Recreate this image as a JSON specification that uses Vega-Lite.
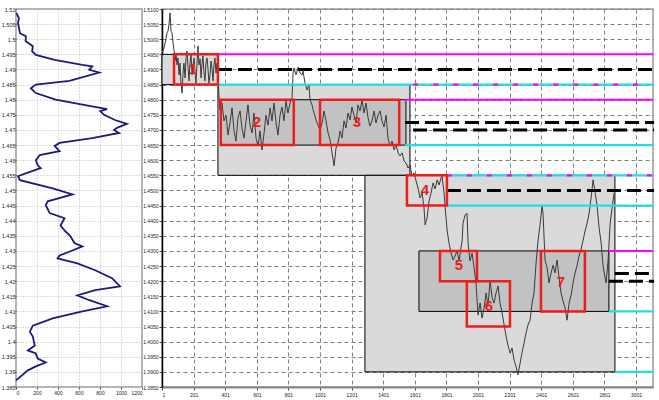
{
"$schema": "https://vega.github.io/schema/vega-lite/v6.json",
"background": "white",
"padding": {"left": 0, "top": 6, "right": 4, "bottom": 2},
"bounds": "flush",
"spacing": 20,
"config": {
  "font": "Liberation Sans",
  "view": {"stroke": "#9a9a9a", "strokeWidth": 1.5},
  "axis": {"labelColor": "#222", "tickColor": "#444", "domainColor": "#333", "title": null, "labelFont": "Liberation Sans"}
},
"datasets": {
  "profile": [
    {"i":0,"price":1.5087,"vol":3},{"i":1,"price":1.507,"vol":28},{"i":2,"price":1.5054,"vol":19},{"i":3,"price":1.502,"vol":38},{"i":4,"price":1.501,"vol":94},{"i":5,"price":1.4994,"vol":91},{"i":6,"price":1.4977,"vol":160},{"i":7,"price":1.496,"vol":154},{"i":8,"price":1.4948,"vol":189},{"i":9,"price":1.4932,"vol":368},{"i":10,"price":1.4915,"vol":632},{"i":11,"price":1.491,"vol":726},{"i":12,"price":1.4899,"vol":698},{"i":13,"price":1.489,"vol":792},{"i":14,"price":1.4862,"vol":509},{"i":15,"price":1.485,"vol":189},{"i":16,"price":1.4838,"vol":141},{"i":17,"price":1.4822,"vol":189},{"i":18,"price":1.48,"vol":377},{"i":19,"price":1.4782,"vol":660},{"i":20,"price":1.4769,"vol":868},{"i":21,"price":1.4762,"vol":802},{"i":22,"price":1.475,"vol":839},{"i":23,"price":1.4733,"vol":943},{"i":24,"price":1.472,"vol":1056},{"i":25,"price":1.4707,"vol":962},{"i":26,"price":1.47,"vol":934},{"i":27,"price":1.469,"vol":981},{"i":28,"price":1.4673,"vol":726},{"i":29,"price":1.4657,"vol":415},{"i":30,"price":1.4647,"vol":368},{"i":31,"price":1.463,"vol":415},{"i":32,"price":1.4617,"vol":226},{"i":33,"price":1.46,"vol":189},{"i":34,"price":1.4583,"vol":207},{"i":35,"price":1.4574,"vol":236},{"i":36,"price":1.4567,"vol":179},{"i":37,"price":1.4547,"vol":19},{"i":38,"price":1.4534,"vol":38},{"i":39,"price":1.4507,"vol":349},{"i":40,"price":1.4487,"vol":538},{"i":41,"price":1.4464,"vol":302},{"i":42,"price":1.4451,"vol":283},{"i":43,"price":1.4425,"vol":321},{"i":44,"price":1.4408,"vol":462},{"i":45,"price":1.4384,"vol":424},{"i":46,"price":1.4368,"vol":462},{"i":47,"price":1.4348,"vol":519},{"i":48,"price":1.4326,"vol":556},{"i":49,"price":1.4315,"vol":632},{"i":50,"price":1.4299,"vol":519},{"i":51,"price":1.4285,"vol":415},{"i":52,"price":1.4275,"vol":396},{"i":53,"price":1.4259,"vol":585},{"i":54,"price":1.4236,"vol":754},{"i":55,"price":1.421,"vol":915},{"i":56,"price":1.4183,"vol":990},{"i":57,"price":1.417,"vol":754},{"i":58,"price":1.4153,"vol":585},{"i":59,"price":1.4137,"vol":698},{"i":60,"price":1.4117,"vol":868},{"i":61,"price":1.41,"vol":632},{"i":62,"price":1.4077,"vol":349},{"i":63,"price":1.4053,"vol":160},{"i":64,"price":1.4033,"vol":132},{"i":65,"price":1.4017,"vol":160},{"i":66,"price":1.3987,"vol":179},{"i":67,"price":1.3971,"vol":113},{"i":68,"price":1.3961,"vol":189},{"i":69,"price":1.3944,"vol":207},{"i":70,"price":1.3931,"vol":283},{"i":71,"price":1.3918,"vol":189},{"i":72,"price":1.3905,"vol":113},{"i":73,"price":1.3872,"vol":0}
  ],
  "prices": [
    {"t":1,"p":1.4954},{"t":14,"p":1.4971},{"t":26,"p":1.5001},{"t":33,"p":1.5021},{"t":39,"p":1.5027},{"t":45,"p":1.5047},{"t":52,"p":1.5087},{"t":58,"p":1.5027},{"t":64,"p":1.5021},{"t":71,"p":1.4988},{"t":77,"p":1.4964},{"t":83,"p":1.4928},{"t":90,"p":1.4948},{"t":96,"p":1.4915},{"t":102,"p":1.4938},{"t":109,"p":1.4882},{"t":115,"p":1.4921},{"t":121,"p":1.4855},{"t":128,"p":1.4822},{"t":134,"p":1.4888},{"t":140,"p":1.4921},{"t":147,"p":1.4872},{"t":153,"p":1.4938},{"t":159,"p":1.4961},{"t":166,"p":1.4905},{"t":172,"p":1.4862},{"t":178,"p":1.4921},{"t":185,"p":1.4948},{"t":191,"p":1.4882},{"t":197,"p":1.4908},{"t":204,"p":1.4938},{"t":210,"p":1.4888},{"t":216,"p":1.4855},{"t":223,"p":1.4928},{"t":229,"p":1.4978},{"t":235,"p":1.4915},{"t":242,"p":1.4935},{"t":248,"p":1.4872},{"t":254,"p":1.4915},{"t":260,"p":1.4945},{"t":267,"p":1.4888},{"t":273,"p":1.4862},{"t":279,"p":1.4921},{"t":286,"p":1.4938},{"t":292,"p":1.4902},{"t":298,"p":1.4855},{"t":305,"p":1.4882},{"t":311,"p":1.4928},{"t":317,"p":1.4905},{"t":324,"p":1.4862},{"t":330,"p":1.4915},{"t":336,"p":1.4938},{"t":343,"p":1.4888},{"t":349,"p":1.4921},{"t":355,"p":1.4872},{"t":362,"p":1.4806},{"t":368,"p":1.4766},{"t":381,"p":1.4789},{"t":393,"p":1.473},{"t":406,"p":1.4749},{"t":419,"p":1.4683},{"t":431,"p":1.4723},{"t":444,"p":1.4773},{"t":457,"p":1.4697},{"t":469,"p":1.4663},{"t":482,"p":1.474},{"t":495,"p":1.4763},{"t":507,"p":1.4706},{"t":520,"p":1.4673},{"t":533,"p":1.473},{"t":545,"p":1.4783},{"t":558,"p":1.4716},{"t":571,"p":1.469},{"t":583,"p":1.4756},{"t":596,"p":1.4673},{"t":609,"p":1.4647},{"t":621,"p":1.4697},{"t":634,"p":1.4634},{"t":647,"p":1.469},{"t":659,"p":1.4749},{"t":672,"p":1.4716},{"t":685,"p":1.4773},{"t":697,"p":1.473},{"t":710,"p":1.4789},{"t":723,"p":1.4723},{"t":735,"p":1.4683},{"t":748,"p":1.4749},{"t":760,"p":1.4776},{"t":773,"p":1.473},{"t":786,"p":1.4796},{"t":798,"p":1.4756},{"t":811,"p":1.4789},{"t":824,"p":1.4806},{"t":830,"p":1.4888},{"t":836,"p":1.4905},{"t":849,"p":1.4882},{"t":862,"p":1.4908},{"t":874,"p":1.4888},{"t":887,"p":1.4882},{"t":893,"p":1.4895},{"t":906,"p":1.4855},{"t":919,"p":1.4832},{"t":931,"p":1.4849},{"t":938,"p":1.4799},{"t":950,"p":1.4783},{"t":963,"p":1.4756},{"t":976,"p":1.4733},{"t":988,"p":1.4716},{"t":1001,"p":1.47},{"t":1014,"p":1.4723},{"t":1026,"p":1.4763},{"t":1039,"p":1.473},{"t":1052,"p":1.469},{"t":1064,"p":1.4667},{"t":1077,"p":1.4624},{"t":1090,"p":1.4581},{"t":1102,"p":1.464},{"t":1115,"p":1.4657},{"t":1128,"p":1.4697},{"t":1140,"p":1.4673},{"t":1153,"p":1.473},{"t":1165,"p":1.4706},{"t":1178,"p":1.4756},{"t":1191,"p":1.4733},{"t":1203,"p":1.4776},{"t":1216,"p":1.4749},{"t":1229,"p":1.4723},{"t":1241,"p":1.4783},{"t":1254,"p":1.4763},{"t":1267,"p":1.4799},{"t":1279,"p":1.4756},{"t":1292,"p":1.4789},{"t":1305,"p":1.474},{"t":1317,"p":1.4713},{"t":1330,"p":1.473},{"t":1343,"p":1.4763},{"t":1355,"p":1.4723},{"t":1368,"p":1.4749},{"t":1381,"p":1.4763},{"t":1393,"p":1.473},{"t":1406,"p":1.471},{"t":1419,"p":1.4749},{"t":1431,"p":1.4673},{"t":1444,"p":1.4647},{"t":1457,"p":1.4663},{"t":1469,"p":1.4634},{"t":1482,"p":1.465},{"t":1495,"p":1.4624},{"t":1507,"p":1.4614},{"t":1520,"p":1.4624},{"t":1533,"p":1.4597},{"t":1545,"p":1.4591},{"t":1558,"p":1.4574},{"t":1571,"p":1.4584},{"t":1583,"p":1.4548},{"t":1596,"p":1.4558},{"t":1609,"p":1.4531},{"t":1621,"p":1.4508},{"t":1634,"p":1.4475},{"t":1647,"p":1.4492},{"t":1659,"p":1.4442},{"t":1666,"p":1.4386},{"t":1678,"p":1.4409},{"t":1691,"p":1.4465},{"t":1704,"p":1.4492},{"t":1716,"p":1.4525},{"t":1729,"p":1.4505},{"t":1742,"p":1.4535},{"t":1754,"p":1.4518},{"t":1767,"p":1.4541},{"t":1773,"p":1.4548},{"t":1786,"p":1.4492},{"t":1792,"p":1.4449},{"t":1805,"p":1.4369},{"t":1817,"p":1.4326},{"t":1830,"p":1.4293},{"t":1843,"p":1.427},{"t":1855,"p":1.4283},{"t":1868,"p":1.43},{"t":1881,"p":1.4267},{"t":1893,"p":1.431},{"t":1900,"p":1.4333},{"t":1906,"p":1.4392},{"t":1919,"p":1.4419},{"t":1931,"p":1.4425},{"t":1938,"p":1.4326},{"t":1950,"p":1.4267},{"t":1963,"p":1.4293},{"t":1976,"p":1.4243},{"t":1988,"p":1.4194},{"t":2001,"p":1.4088},{"t":2014,"p":1.4128},{"t":2026,"p":1.4078},{"t":2039,"p":1.4111},{"t":2052,"p":1.4161},{"t":2064,"p":1.4118},{"t":2077,"p":1.4204},{"t":2090,"p":1.4144},{"t":2102,"p":1.4128},{"t":2115,"p":1.4161},{"t":2128,"p":1.4184},{"t":2140,"p":1.4128},{"t":2153,"p":1.4095},{"t":2166,"p":1.4055},{"t":2178,"p":1.4019},{"t":2191,"p":1.3986},{"t":2204,"p":1.3962},{"t":2216,"p":1.3979},{"t":2229,"p":1.3939},{"t":2242,"p":1.3916},{"t":2254,"p":1.389},{"t":2267,"p":1.3929},{"t":2279,"p":1.3962},{"t":2292,"p":1.3995},{"t":2305,"p":1.4029},{"t":2317,"p":1.4055},{"t":2330,"p":1.4071},{"t":2343,"p":1.4128},{"t":2355,"p":1.4161},{"t":2368,"p":1.426},{"t":2381,"p":1.4336},{"t":2393,"p":1.4386},{"t":2406,"p":1.4449},{"t":2412,"p":1.4425},{"t":2425,"p":1.427},{"t":2438,"p":1.4243},{"t":2450,"p":1.4194},{"t":2463,"p":1.4227},{"t":2476,"p":1.4253},{"t":2488,"p":1.4227},{"t":2501,"p":1.427},{"t":2514,"p":1.421},{"t":2526,"p":1.4161},{"t":2539,"p":1.4134},{"t":2552,"p":1.4111},{"t":2564,"p":1.4071},{"t":2577,"p":1.4128},{"t":2590,"p":1.4154},{"t":2602,"p":1.4194},{"t":2615,"p":1.4227},{"t":2628,"p":1.4253},{"t":2640,"p":1.4283},{"t":2653,"p":1.4306},{"t":2666,"p":1.4336},{"t":2678,"p":1.4366},{"t":2691,"p":1.4392},{"t":2704,"p":1.4425},{"t":2716,"p":1.4475},{"t":2729,"p":1.4535},{"t":2742,"p":1.4492},{"t":2754,"p":1.4449},{"t":2767,"p":1.4376},{"t":2780,"p":1.4326},{"t":2792,"p":1.425},{"t":2805,"p":1.421},{"t":2811,"p":1.4194},{"t":2824,"p":1.427},{"t":2837,"p":1.4392},{"t":2849,"p":1.4442},{"t":2862,"p":1.4492}
  ],
  "outer": [
    {"t":1,"t2":355,"p":1.485,"p2":1.495},
    {"t":355,"t2":1570,"p":1.455,"p2":1.485},
    {"t":1285,"t2":2867,"p":1.39,"p2":1.455}
  ],
  "inner": [
    {"t":373,"t2":1545,"p":1.465,"p2":1.48},
    {"t":1627,"t2":2829,"p":1.41,"p2":1.43}
  ],
  "redbox": [
    {"t":77,"t2":355,"p":1.485,"p2":1.495},
    {"t":373,"t2":835,"p":1.465,"p2":1.48},
    {"t":1001,"t2":1502,"p":1.465,"p2":1.48},
    {"t":1551,"t2":1804,"p":1.445,"p2":1.455},
    {"t":1760,"t2":1994,"p":1.42,"p2":1.43},
    {"t":1930,"t2":2203,"p":1.405,"p2":1.42},
    {"t":2399,"t2":2677,"p":1.41,"p2":1.43}
  ],
  "cyan": [
    {"t":355,"t2":3108,"p":1.485},
    {"t":1539,"t2":3108,"p":1.465},
    {"t":1804,"t2":3108,"p":1.455},
    {"t":1804,"t2":3108,"p":1.445},
    {"t":2829,"t2":3108,"p":1.41},
    {"t":2867,"t2":3108,"p":1.39}
  ],
  "magenta": [
    {"t":355,"t2":3108,"p":1.495},
    {"t":1539,"t2":3108,"p":1.48},
    {"t":2829,"t2":3108,"p":1.43}
  ],
  "magdash": [
    {"t":1590,"t2":3108,"p":1.485},
    {"t":1804,"t2":3108,"p":1.455}
  ],
  "blackdash": [
    {"t":355,"t2":3115,"p":1.49},
    {"t":1539,"t2":3115,"p":1.4725},
    {"t":1590,"t2":3115,"p":1.47},
    {"t":1804,"t2":3115,"p":1.45},
    {"t":2867,"t2":3090,"p":1.4225},
    {"t":2829,"t2":3115,"p":1.42}
  ],
  "labels": [
    {"t":196,"p":1.49,"label":"1"},
    {"t":601,"p":1.4726,"label":"2"},
    {"t":1234,"p":1.4726,"label":"3"},
    {"t":1665,"p":1.45,"label":"4"},
    {"t":1880,"p":1.4253,"label":"5"},
    {"t":2070,"p":1.4118,"label":"6"},
    {"t":2525,"p":1.4197,"label":"7"}
  ]
},
"hconcat": [
  {
    "width": 126, "height": 378,
    "data": {"name": "profile"},
    "mark": {"type": "line", "color": "#1a1a80", "strokeWidth": 1.8},
    "encoding": {
      "x": {"field": "vol", "type": "quantitative", "scale": {"domain": [0, 1200], "nice": false},
            "axis": {"values": [0,200,400,600,800,1000,1200], "format": "d", "labelFontSize": 5, "tickSize": 2, "labelPadding": 1, "grid": true, "gridDash": [1,2], "gridColor": "#b8b8b8", "domain": false}},
      "y": {"field": "price", "type": "quantitative", "scale": {"domain": [1.385, 1.51], "nice": false, "zero": false},
            "axis": {"values": [1.385,1.39,1.395,1.4,1.405,1.41,1.415,1.42,1.425,1.43,1.435,1.44,1.445,1.45,1.455,1.46,1.465,1.47,1.475,1.48,1.485,1.49,1.495,1.5,1.505,1.51], "format": ".4~f", "labelFontSize": 5.5, "tickSize": 1, "labelPadding": 0, "grid": true, "gridDash": [1,2], "gridColor": "#b8b8b8", "domain": false}},
      "order": {"field": "i", "type": "quantitative"}
    }
  },
  {
    "width": 491, "height": 378,
    "encoding": {
      "x": {"field": "t", "type": "quantitative", "scale": {"domain": [1, 3108], "nice": false, "zero": false},
            "axis": {"values": [1,201,401,601,801,1001,1201,1401,1601,1801,2001,2201,2401,2601,2801,3001], "format": "d", "labelFontSize": 5, "tickSize": 3, "labelPadding": 2, "grid": true, "gridDash": [4,3], "gridColor": "#808080", "domainColor": "#888", "domainWidth": 2}},
      "y": {"field": "p", "type": "quantitative", "scale": {"domain": [1.385, 1.51], "nice": false, "zero": false},
            "axis": {"values": [1.385,1.39,1.395,1.4,1.405,1.41,1.415,1.42,1.425,1.43,1.435,1.44,1.445,1.45,1.455,1.46,1.465,1.47,1.475,1.48,1.485,1.49,1.495,1.5,1.505,1.51], "format": ".4f", "labelFontSize": 5, "tickSize": 3, "labelPadding": 1, "grid": true, "gridDash": [4,3], "gridColor": "#808080", "domainColor": "#000", "domainWidth": 1.5}}
    },
    "layer": [
      {"data": {"name": "outer"}, "mark": {"type": "rect", "fill": "#dadada", "stroke": "#000", "strokeWidth": 1},
       "encoding": {"x2": {"field": "t2"}, "y2": {"field": "p2"}}},
      {"data": {"name": "inner"}, "mark": {"type": "rect", "fill": "#c2c2c2", "stroke": "#000", "strokeWidth": 1},
       "encoding": {"x2": {"field": "t2"}, "y2": {"field": "p2"}}},
      {"data": {"name": "prices"}, "mark": {"type": "line", "color": "#3a3a3a", "strokeWidth": 1}},
      {"data": {"name": "cyan"}, "mark": {"type": "rule", "color": "#22dde6", "strokeWidth": 2.2},
       "encoding": {"x2": {"field": "t2"}}},
      {"data": {"name": "magenta"}, "mark": {"type": "rule", "color": "#ff00ff", "strokeWidth": 2},
       "encoding": {"x2": {"field": "t2"}}},
      {"data": {"name": "magdash"}, "mark": {"type": "rule", "color": "#ff00ff", "strokeWidth": 2.2, "strokeDash": [5, 15]},
       "encoding": {"x2": {"field": "t2"}}},
      {"data": {"name": "blackdash"}, "mark": {"type": "rule", "color": "#000", "strokeWidth": 3, "strokeDash": [14, 6], "clip": false},
       "encoding": {"x2": {"field": "t2"}}},
      {"data": {"name": "redbox"}, "mark": {"type": "rect", "fill": null, "fillOpacity": 0, "stroke": "#ee1c1c", "strokeWidth": 2.5},
       "encoding": {"x2": {"field": "t2"}, "y2": {"field": "p2"}}},
      {"data": {"name": "labels"}, "mark": {"type": "text", "color": "#ee1c1c", "fontSize": 15, "fontWeight": "bold", "font": "Liberation Sans", "align": "center", "baseline": "middle"},
       "encoding": {"text": {"field": "label"}}}
    ]
  }
]
}
